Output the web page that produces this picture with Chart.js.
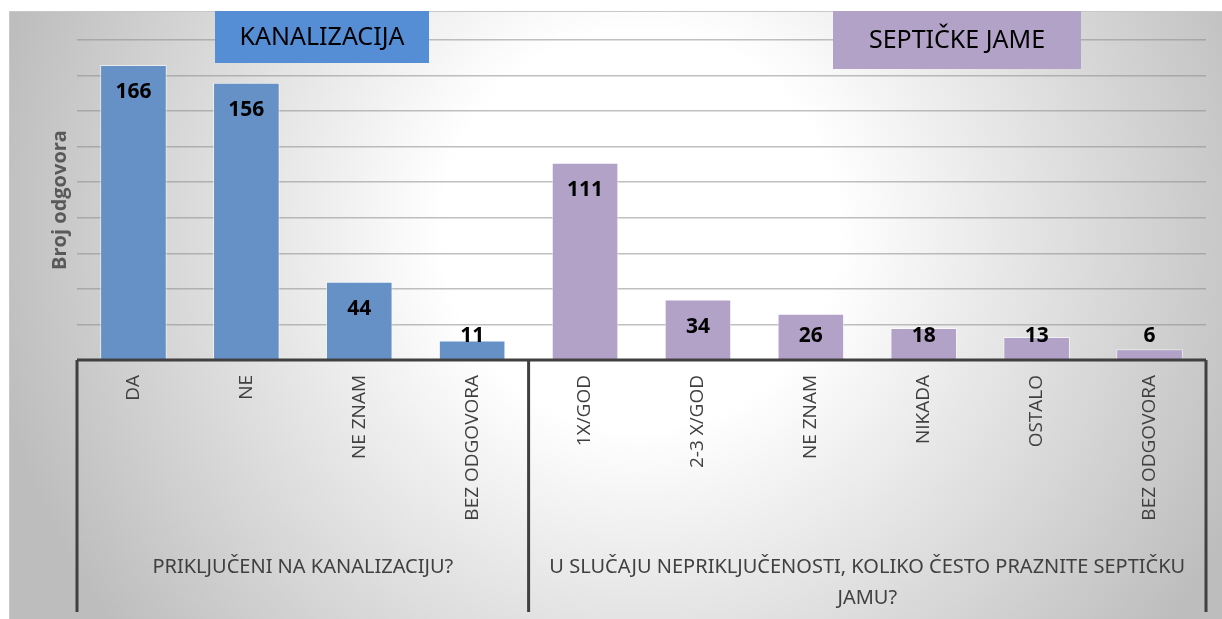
<!DOCTYPE html>
<html>
<head>
<meta charset="utf-8">
<script src="https://cdn.jsdelivr.net/npm/chart.js@4.4.0/dist/chart.umd.min.js"></script>
<style>
  html, body { margin: 0; padding: 0; background: #fff; }
  #wrap { width: 1222px; height: 619px; position: relative; }
</style>
</head>
<body>
<div id="wrap"><canvas id="septicChart" width="1222" height="619"></canvas></div>
<script>
// Data
var categories = ['DA', 'NE', 'NE ZNAM', 'BEZ ODGOVORA',
                  '1X/GOD', '2-3 X/GOD', 'NE ZNAM', 'NIKADA', 'OSTALO', 'BEZ ODGOVORA'];
var kanalizacijaData = [166, 156, 44, 11, null, null, null, null, null, null];
var septickeData = [null, null, null, null, 111, 34, 26, 18, 13, 6];
var groups = [
    { label: ['PRIKLJUČENI NA KANALIZACIJU?'], from: 0, to: 3 },
    { label: ['U SLUČAJU NEPRIKLJUČENOSTI, KOLIKO ČESTO PRAZNITE SEPTIČKU', 'JAMU?'], from: 4, to: 9 }
];
var yMax = 180;
var yStep = 20;

var blue = '#6591c6';
var purple = '#b3a2c7';
var axisColor = '#404040';

// extra drawing: background, boxes, axis lines, labels
var decorPlugin = {
    id: 'decor',
    beforeDraw: function(chart) {
        var c = chart.ctx;
        c.save();
        var g = c.createRadialGradient(640, 230, 0, 640, 230, 660);
        g.addColorStop(0, '#ffffff');
        g.addColorStop(0.3, '#ffffff');
        g.addColorStop(1, '#bdbdbd');
        c.fillStyle = g;
        c.fillRect(9, 11, 1213, 608);
        c.strokeStyle = '#c8c8c8';
        c.lineWidth = 1;
        c.strokeRect(9.5, 11.5, 1220, 620);
        c.restore();
    },
    afterDatasetsDraw: function(chart) {
        var c = chart.ctx;
        var x = chart.scales.x;
        var y = chart.scales.y;
        var area = chart.chartArea;
        var half = (x.getPixelForValue(1) - x.getPixelForValue(0)) / 2;
        var bottom = 612;
        c.save();

        // category box lines
        c.strokeStyle = axisColor;
        c.lineWidth = 3;
        c.beginPath();
        c.moveTo(area.left, area.bottom);
        c.lineTo(area.right, area.bottom);
        groups.forEach(function(gr, i) {
            var gx = x.getPixelForValue(gr.from) - half;
            if (i === 0) gx = area.left;
            c.moveTo(gx, area.bottom);
            c.lineTo(gx, bottom);
        });
        c.moveTo(area.right, area.bottom);
        c.lineTo(area.right, bottom);
        c.stroke();

        // category labels, rotated
        c.fillStyle = axisColor;
        c.font = '19px "Open Sans"';
        c.textAlign = 'right';
        c.textBaseline = 'middle';
        categories.forEach(function(lab, i) {
            c.save();
            c.translate(x.getPixelForValue(i), area.bottom + 15);
            c.rotate(-Math.PI / 2);
            c.fillText(lab, 0, 0);
            c.restore();
        });

        // group labels
        c.font = '20px "Noto Sans"';
        c.textAlign = 'center';
        c.textBaseline = 'middle';
        groups.forEach(function(gr) {
            var cx = (x.getPixelForValue(gr.from) + x.getPixelForValue(gr.to)) / 2;
            gr.label.forEach(function(line, k) {
                c.fillText(line, cx, 567 + k * 31);
            });
        });

        // y axis title
        c.save();
        c.fillStyle = '#595959';
        c.font = 'bold 20px "Open Sans"';
        c.translate(60, 200);
        c.rotate(-Math.PI / 2);
        c.fillText('Broj odgovora', 0, 0);
        c.restore();

        // value labels
        c.fillStyle = '#000';
        c.font = 'bold 21px "Noto Sans"';
        chart.data.datasets.forEach(function(ds, di) {
            var meta = chart.getDatasetMeta(di);
            meta.data.forEach(function(bar, i) {
                if (ds.data[i] === null) return;
                var ly = Math.min(bar.y + 27, y.getPixelForValue(0) - 24);
                c.fillText(String(ds.data[i]), bar.x, ly);
            });
        });

        // series boxes
        var boxes = [
            { text: 'KANALIZACIJA', color: '#558ed5', x0: 215, x1: 429, y1: 63 },
            { text: 'SEPTIČKE JAME', color: purple, x0: 833, x1: 1081, y1: 69 }
        ];
        c.font = '25px "Noto Sans"';
        boxes.forEach(function(b) {
            c.fillStyle = b.color;
            c.fillRect(b.x0, 11, b.x1 - b.x0, b.y1 - 11);
            c.fillStyle = '#000';
            c.fillText(b.text, (b.x0 + b.x1) / 2, (11 + b.y1) / 2 + 1);
        });
        c.restore();
    }
};

var ctx = document.getElementById('septicChart').getContext('2d');
var chart = new Chart(ctx, {
    type: 'bar',
    data: {
        labels: categories,
        datasets: [{
            label: 'KANALIZACIJA',
            data: kanalizacijaData,
            backgroundColor: blue,
            borderColor: 'rgba(255,255,255,0.6)',
            borderWidth: 1,
            barPercentage: 0.59,
            categoryPercentage: 1,
            grouped: false
        }, {
            label: 'SEPTIČKE JAME',
            data: septickeData,
            backgroundColor: purple,
            borderColor: 'rgba(255,255,255,0.6)',
            borderWidth: 1,
            barPercentage: 0.59,
            categoryPercentage: 1,
            grouped: false
        }]
    },
    options: {
        responsive: false,
        animation: false,
        layout: {
            padding: { left: 77, right: 16, top: 40, bottom: 259 }
        },
        plugins: {
            legend: { display: false },
            tooltip: { enabled: false }
        },
        scales: {
            x: {
                grid: { display: false, drawTicks: false },
                border: { display: false },
                ticks: { display: false }
            },
            y: {
                min: 0,
                max: yMax,
                ticks: { display: false, stepSize: yStep },
                grid: { color: 'rgba(140,140,140,0.55)', lineWidth: 1.5, drawTicks: false },
                border: { display: false }
            }
        }
    },
    plugins: [decorPlugin]
});
</script>
</body>
</html>
